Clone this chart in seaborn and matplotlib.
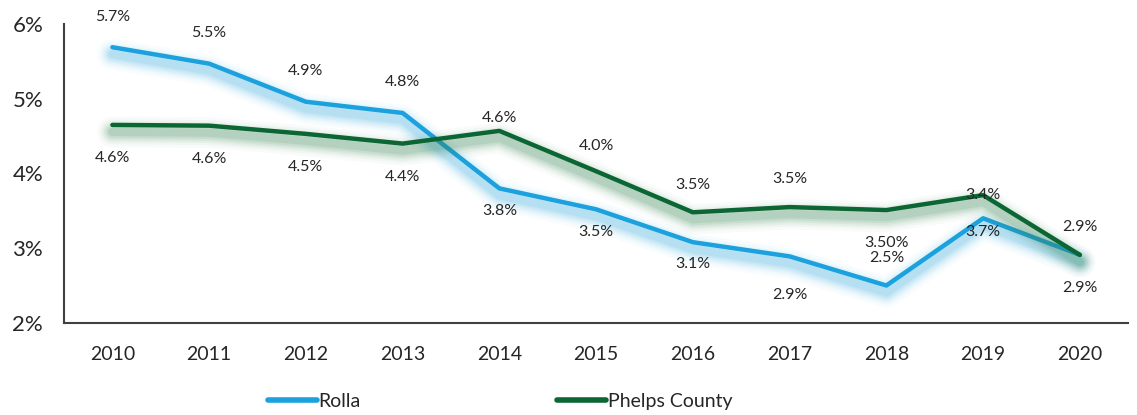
import pandas as pd
import numpy as np
import matplotlib
matplotlib.use("Agg")
import matplotlib.pyplot as plt
import matplotlib.patheffects as pe
from matplotlib.lines import Line2D
import seaborn as sns

### data
years = [2010, 2011, 2012, 2013, 2014, 2015, 2016, 2017, 2018, 2019, 2020]
rolla = [5.69, 5.47, 4.96, 4.81, 3.80, 3.52, 3.08, 2.89, 2.50, 3.40, 2.91]
phelps = [4.65, 4.64, 4.53, 4.40, 4.57, 4.03, 3.48, 3.55, 3.51, 3.71, 2.91]
rolla_labels = ["5.7%", "5.5%", "4.9%", "4.8%", "3.8%", "3.5%", "3.1%", "2.9%", "2.5%", "3.7%", "2.9%"]
phelps_labels = ["4.6%", "4.6%", "4.5%", "4.4%", "4.6%", "4.0%", "3.5%", "3.5%", "3.50%", "3.4%", "2.9%"]
# vertical label offsets (points) - positive = above the point
rolla_off = [22, 22, 22, 22, -16, -16, -16, -28, 20, -10, -24]
phelps_off = [-24, -24, -24, -24, 9, 18, 20, 20, -24, 0, 20]

df = pd.DataFrame({"year": years, "Rolla": rolla, "Phelps County": phelps})

sns.set_style("white")
plt.rcParams["font.family"] = ["Lato", "DejaVu Sans"]

blue = "#1ba1dd"
green = "#0b6634"

fig = plt.figure(figsize=(11.37, 4.15), dpi=100)
ax = fig.add_axes([0.0563, 0.222, 0.936, 0.72])

def glow(color):
    # stacked soft shadows to fake the blurred glow under each line
    effects = []
    for lw, a in [(22, 0.03), (18, 0.04), (15, 0.06), (12, 0.08), (9, 0.10), (6, 0.12)]:
        effects.append(pe.SimpleLineShadow(offset=(0, -5), shadow_color=color, alpha=a, linewidth=lw))
    effects.append(pe.Normal())
    return effects

sns.lineplot(data=df, x="year", y="Rolla", ax=ax, color=blue, linewidth=3.2,
             path_effects=glow("#3fb0e4"))
sns.lineplot(data=df, x="year", y="Phelps County", ax=ax, color=green, linewidth=3.2,
             path_effects=glow("#3a8553"))

for x, y, t, o in zip(years, rolla, rolla_labels, rolla_off):
    ax.annotate(t, (x, y), xytext=(0, o), textcoords="offset points",
                ha="center", va="center", fontsize=11.5, color="#262626")
for x, y, t, o in zip(years, phelps, phelps_labels, phelps_off):
    ax.annotate(t, (x, y), xytext=(0, o), textcoords="offset points",
                ha="center", va="center", fontsize=11.5, color="#262626")

ax.set_xlim(2009.5, 2020.5)
ax.set_ylim(2, 6)
ax.set_xticks(years)
ax.set_xticklabels([str(y) for y in years], fontsize=14)
ax.set_yticks([2, 3, 4, 5, 6])
ax.set_yticklabels(["2%", "3%", "4%", "5%", "6%"], fontsize=16)
ax.tick_params(axis="y", length=0, pad=15)
ax.tick_params(axis="x", length=0, pad=17)
ax.set_xlabel("")
ax.set_ylabel("")
for s in ["top", "right"]:
    ax.spines[s].set_visible(False)
for s in ["left", "bottom"]:
    ax.spines[s].set_color("#404040")
    ax.spines[s].set_linewidth(1.5)

handles = [Line2D([], [], color=blue, lw=4, solid_capstyle="round"),
           Line2D([], [], color=green, lw=4, solid_capstyle="round")]
fig.legend(handles, ["Rolla", "Phelps County"], loc="center", bbox_to_anchor=(0.44, 0.032),
           ncol=2, frameon=False, fontsize=14, handlelength=2.5, handletextpad=0.1,
           columnspacing=10.1)

fig.savefig("out.png", dpi=100)
